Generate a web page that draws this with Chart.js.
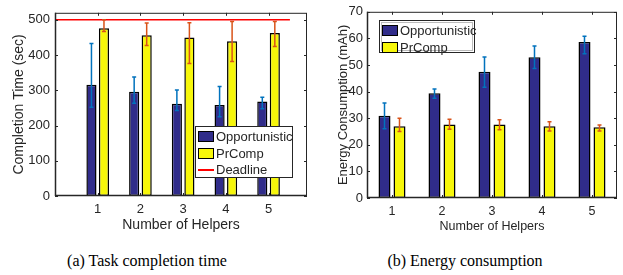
<!DOCTYPE html>
<html>
<head>
<meta charset="utf-8">
<script src="https://cdn.jsdelivr.net/npm/chart.js@4/dist/chart.umd.min.js"></script>
<style>
  body { margin: 0; background: #fff; }
  #page { position: relative; width: 623px; height: 275px; overflow: hidden; font-family: "Liberation Sans", Arial, sans-serif; color: #262626; }
  .panel { position: absolute; top: 0; height: 240px; }
  .legend { position: absolute; background: #fff; border: 1px solid #262626; box-sizing: border-box; font-size: 13px; }
  .legend .row { position: absolute; left: 0; right: 0; height: 16px; }
  .legend .patch { position: absolute; left: 2px; top: 2px; width: 16px; height: 11px; border: 1.5px solid #000; box-sizing: border-box; }
  .legend .dash { position: absolute; left: 2px; top: 7px; width: 16px; height: 2px; background: #ff0000; }
  .legend .txt { position: absolute; left: 20px; top: 0; line-height: 16px; white-space: nowrap; }
  .caption { position: absolute; top: 251px; width: 260px; text-align: center; font-family: "Liberation Serif", "Times New Roman", serif; font-size: 16px; line-height: 20px; color: #000; }
</style>
</head>
<body>
<div id="page">
  <div class="panel" style="left:0;width:310px"><canvas id="time-chart" width="310" height="240"></canvas></div>
  <div class="panel" style="left:310px;width:313px"><canvas id="energy-chart" width="313" height="240"></canvas></div>
  <div class="legend" id="time-legend" style="left:195px;top:126px;width:98px;height:52px"></div>
  <div class="legend" id="energy-legend" style="left:379px;top:20px;width:96px;height:33px;outline:1px solid #bbb;outline-offset:-3px"></div>
  <div class="caption" style="left:17px">(a) Task completion time</div>
  <div class="caption" style="left:335px">(b) Energy consumption</div>
</div>
<script>
const helpers = [1, 2, 3, 4, 5];

// (a) completion time, seconds
const timeOpp = [316, 296, 262, 258, 268];
const timeOppLow = [252, 263, 243, 225, 248];
const timeOppHigh = [433, 338, 301, 311, 280];
const timePr = [476, 456, 450, 439, 463];
const timePrLow = [467, 427, 376, 382, 424];
const timePrHigh = [500, 491, 492, 495, 495];
const deadline = 500;
const deadlineFrom = 0;
const deadlineTo = 5.5;
const timeTicks = [0, 100, 200, 300, 400, 500];

// (b) energy consumption, mAh
const energyOpp = [30.9, 39.4, 47.5, 52.9, 58.6];
const energyOppLow = [26.0, 37.5, 41.6, 48.7, 54.2];
const energyOppHigh = [35.7, 41.0, 53.0, 57.1, 60.8];
const energyPr = [27.0, 27.6, 27.6, 27.0, 26.6];
const energyPrLow = [25.0, 25.8, 25.7, 25.2, 25.2];
const energyPrHigh = [30.0, 29.6, 29.4, 28.7, 27.4];
const energyTicks = [0, 10, 20, 30, 40, 50, 60, 70];

const NAVY = '#302c8a';
const YELLOW = '#f7f70a';
const BLUE_ERR = '#0072bd';
const ORANGE_ERR = '#d95319';
const AXIS = '#262626';
const FONT = '"Liberation Sans", Arial, sans-serif';

Chart.defaults.color = AXIS;
Chart.defaults.font.family = FONT;

// MATLAB style box with inward ticks on all four sides
const boxPlugin = {
  id: 'box',
  afterDatasetsDraw(chart) {
    const { ctx, chartArea: a, scales } = chart;
    ctx.save();
    ctx.strokeStyle = AXIS;
    ctx.lineWidth = 1;
    ctx.strokeRect(a.left + 0.5, a.top + 0.5, a.right - a.left - 1, a.bottom - a.top - 1);
    ctx.lineWidth = 1.5;
    ctx.beginPath();
    ctx.moveTo(a.left, a.bottom - 0.5); ctx.lineTo(a.right, a.bottom - 0.5);
    ctx.moveTo(a.left + 0.5, a.top); ctx.lineTo(a.left + 0.5, a.bottom);
    ctx.stroke();
    ctx.lineWidth = 1;
    ctx.beginPath();
    const len = 3;
    scales.x.ticks.forEach((t, i) => {
      const px = Math.round(scales.x.getPixelForTick(i)) + 0.5;
      ctx.moveTo(px, a.bottom); ctx.lineTo(px, a.bottom - len);
      ctx.moveTo(px, a.top); ctx.lineTo(px, a.top + len);
    });
    scales.y.ticks.forEach(t => {
      const py = Math.round(scales.y.getPixelForValue(t.value)) + 0.5;
      ctx.moveTo(a.left, py); ctx.lineTo(a.left + len, py);
      ctx.moveTo(a.right, py); ctx.lineTo(a.right - len, py);
    });
    ctx.stroke();
    ctx.restore();
  }
};

// error bars from per-dataset low/high arrays
const errorPlugin = {
  id: 'errbars',
  afterDatasetsDraw(chart) {
    const { ctx } = chart;
    const y = chart.scales.y;
    chart.data.datasets.forEach((ds, di) => {
      if (!ds.errLow) return;
      const meta = chart.getDatasetMeta(di);
      ctx.save();
      ctx.strokeStyle = ds.errColor;
      ctx.lineWidth = 1.5;
      meta.data.forEach((bar, i) => {
        const x = bar.x;
        const y1 = y.getPixelForValue(ds.errLow[i]);
        const y2 = y.getPixelForValue(ds.errHigh[i]);
        ctx.beginPath();
        ctx.moveTo(x, y1); ctx.lineTo(x, y2);
        ctx.moveTo(x - 2, y1); ctx.lineTo(x + 2, y1);
        ctx.moveTo(x - 2, y2); ctx.lineTo(x + 2, y2);
        ctx.stroke();
      });
      ctx.restore();
    });
  }
};

function barSet(label, values, color, low, high, errColor, cat, bar) {
  return {
    type: 'bar', label, data: values, backgroundColor: color,
    borderColor: '#000', borderWidth: 1.5, borderSkipped: false,
    categoryPercentage: cat, barPercentage: bar,
    errLow: low, errHigh: high, errColor, order: 1
  };
}

function buildLegend(el, items) {
  el.innerHTML = items.map((it, i) => `
    <div class="row" style="top:${2 + i * 16.5}px">
      ${it.line ? `<div class="dash"></div>` : `<div class="patch" style="background:${it.color}"></div>`}
      <div class="txt">${it.label}</div>
    </div>`).join('');
}

const noGrid = { display: false, drawTicks: false };

// (a) Task completion time
new Chart(document.getElementById('time-chart'), {
  type: 'bar',
  data: {
    datasets: [
      barSet('Opportunistic', helpers.map((h, i) => ({ x: h, y: timeOpp[i] })), NAVY, timeOppLow, timeOppHigh, BLUE_ERR, 0.586, 0.81),
      barSet('PrComp', helpers.map((h, i) => ({ x: h, y: timePr[i] })), YELLOW, timePrLow, timePrHigh, ORANGE_ERR, 0.586, 0.81),
      {
        type: 'line', label: 'Deadline',
        data: [{ x: deadlineFrom, y: deadline }, { x: deadlineTo, y: deadline }],
        borderColor: '#ff0000', borderWidth: 1.5, pointRadius: 0, order: 0
      }
    ]
  },
  options: {
    responsive: false, animation: false, devicePixelRatio: 1,
    layout: { padding: { top: 3, right: 3, left: 0, bottom: 0 } },
    plugins: { legend: { display: false }, tooltip: { enabled: false } },
    scales: {
      x: {
        type: 'linear', min: 0, max: 5.9, offset: false,
        grid: noGrid, border: { display: false },
        afterBuildTicks: s => { s.ticks = helpers.map(v => ({ value: v })); },
        afterFit: s => { s.height = 44; },
        ticks: { font: { size: 13 }, padding: 6, maxRotation: 0 },
        title: { display: true, text: 'Number of Helpers', font: { size: 14 }, padding: { top: 6, bottom: 6 } }
      },
      y: {
        min: 0, max: 520,
        grid: noGrid, border: { display: false },
        afterBuildTicks: s => { s.ticks = timeTicks.map(v => ({ value: v })); },
        afterFit: s => { s.width = 55; },
        ticks: { font: { size: 13 }, padding: 5 },
        title: { display: true, text: 'Completion Time (sec)', font: { size: 14 }, padding: { top: 11, bottom: 11 } }
      }
    }
  },
  plugins: [errorPlugin, boxPlugin]
});

// (b) Energy consumption
new Chart(document.getElementById('energy-chart'), {
  type: 'bar',
  data: {
    labels: helpers,
    datasets: [
      barSet('Opportunistic', energyOpp, NAVY, energyOppLow, energyOppHigh, BLUE_ERR, 0.6, 0.8),
      barSet('PrComp', energyPr, YELLOW, energyPrLow, energyPrHigh, ORANGE_ERR, 0.6, 0.8)
    ]
  },
  options: {
    responsive: false, animation: false, devicePixelRatio: 1,
    layout: { padding: { top: 10, right: 6, left: 0, bottom: 0 } },
    plugins: { legend: { display: false }, tooltip: { enabled: false } },
    scales: {
      x: {
        grid: noGrid, border: { display: false },
        afterFit: s => { s.height = 42; },
        ticks: { font: { size: 12.5 }, padding: 6, maxRotation: 0 },
        title: { display: true, text: 'Number of Helpers', font: { size: 12.5 }, padding: { top: 6, bottom: 6 } }
      },
      y: {
        min: 0, max: 70,
        grid: noGrid, border: { display: false },
        afterBuildTicks: s => { s.ticks = energyTicks.map(v => ({ value: v })); },
        afterFit: s => { s.width = 57; },
        ticks: { font: { size: 13 }, padding: 4 },
        title: { display: true, text: 'Energy Consumption (mAh)', font: { size: 13 }, padding: { top: 26, bottom: 26 } }
      }
    }
  },
  plugins: [errorPlugin, boxPlugin]
});

buildLegend(document.getElementById('time-legend'), [
  { label: 'Opportunistic', color: NAVY },
  { label: 'PrComp', color: YELLOW },
  { label: 'Deadline', line: true }
]);
buildLegend(document.getElementById('energy-legend'), [
  { label: 'Opportunistic', color: NAVY },
  { label: 'PrComp', color: YELLOW }
]);
</script>
</body>
</html>
